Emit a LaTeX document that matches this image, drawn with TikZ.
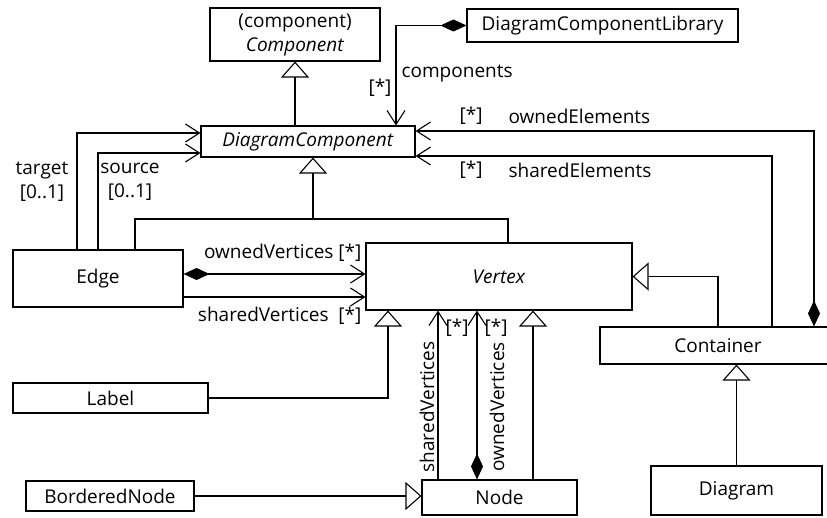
\documentclass[tikz,border=0pt]{standalone}
\usepackage{fontspec}
\setmainfont{Open Sans}
\usetikzlibrary{arrows.meta}

\begin{document}
\begin{tikzpicture}[x=1pt,y=-1pt,line width=1.1pt,
    every node/.style={font=\fontsize{19}{24}\selectfont},
    cls/.style={draw,inner sep=0pt,align=center},
    txt/.style={inner sep=0pt},
    assoc/.style={-{Straight Barb[length=14pt,width=18pt]}},
    owned/.style={{Diamond[length=26pt,width=12pt]}-{Straight Barb[length=14pt,width=18pt]}},
    gen/.style={-{Triangle[open,length=16pt,width=28pt]}}]

    \clip (0,0) rectangle (827,518);

    \node[cls,minimum width=170pt,minimum height=53pt] (comp) at (295,34.5) {(component)\\\textit{Component}};
    \node[cls,minimum width=271pt,minimum height=33pt] (lib) at (602.5,25.5) {DiagramComponentLibrary};
    \node[cls,minimum width=214pt,minimum height=31pt] (dc) at (308,141.5) {\textit{DiagramComponent}};

    \node[cls,minimum width=170pt,minimum height=57pt] (edge) at (98,278.5) {Edge};
    \node[cls,minimum width=266pt,minimum height=67pt] (vtx) at (499,276.5) {\textit{Vertex}};
    \node[cls,minimum width=236pt,minimum height=37pt] (cont) at (718,345.5) {Container};

    \node[cls,minimum width=195pt,minimum height=30pt] (lab) at (110.5,398) {Label};
    \node[cls,minimum width=168pt,minimum height=30pt] (bnode) at (110,496) {BorderedNode};
    \node[cls,minimum width=155pt,minimum height=35pt] (node) at (499.5,497.5) {Node};
    \node[cls,minimum width=171pt,minimum height=49pt] (diag) at (736.5,490.5) {Diagram};

    \coordinate (dcj) at (313,219);

    \draw[owned] (lib.west) -| ([xshift=88pt]dc.north);
    \draw[gen] (dc.north -| comp.south) -- (comp.south);

    \draw[assoc] ([xshift=-21pt]edge.north) |- ([yshift=8.5pt]dc.west);
    \draw[assoc] (edge.north) |- ([yshift=-11.5pt]dc.west);

    \draw[owned] ([xshift=96pt]cont.north) |- ([yshift=10.5pt]dc.east);
    \draw[assoc] ([xshift=54pt]cont.north) |- ([yshift=-14.5pt]dc.east);

    \draw[gen] (dcj) -- (dcj |- dc.south);
    \draw ([xshift=37pt]edge.north) |- (dcj) -| ([xshift=9pt]vtx.north);

    \draw[owned] ([yshift=4.5pt]edge.east) coordinate (ove) -- (ove -| vtx.west);
    \draw[assoc] ([yshift=-18.5pt]edge.east) coordinate (sve) -- (sve -| vtx.west);

    \draw[gen] (lab.east) -| ([xshift=-111pt]vtx.south);
    \draw[gen] (bnode.east) -- (bnode.east -| node.west);

    \draw[assoc] ([xshift=-61.5pt]node.north) coordinate (svn) -- (svn |- vtx.south);
    \draw[owned] ([xshift=-22.5pt]node.north) coordinate (ovn) -- (ovn |- vtx.south);
    \draw[gen] ([xshift=33.5pt]node.north) coordinate (gn) -- (gn |- vtx.south);

    \draw[gen] (cont.north) |- (vtx.east);
    \draw[gen] (diag.north) -- (diag.north |- cont.south);

    \node[txt,anchor=west] (lcomps) at (401,74) {components};
    \node[txt] (mcomps) at (380,88) {[*]};

    \node[txt,align=center] (ltarget) at (42,182) {target\\{[0..1]}};
    \node[txt,align=center] (lsource) at (130,182) {source\\{[0..1]}};

    \node[txt] (mowned) at (471,116) {[*]};
    \node[txt,anchor=west] (lowned) at (508,116) {ownedElements};
    \node[txt] (mshared) at (471,170) {[*]};
    \node[txt,anchor=west] (lshared) at (508,170) {sharedElements};

    \node[txt,anchor=east] (lov) at (362,253) {ownedVertices [*]};
    \node[txt,anchor=east] (lsv) at (362,316) {sharedVertices\ \ [*]};

    \node[txt,rotate=90] (lsvn) at (427,407) {sharedVertices};
    \node[txt,rotate=90] (lovn) at (497,407) {ownedVertices};
    \node[txt] (msvn) at (457,328) {[*]};
    \node[txt] (movn) at (496,328) {[*]};

\end{tikzpicture}
\end{document}
